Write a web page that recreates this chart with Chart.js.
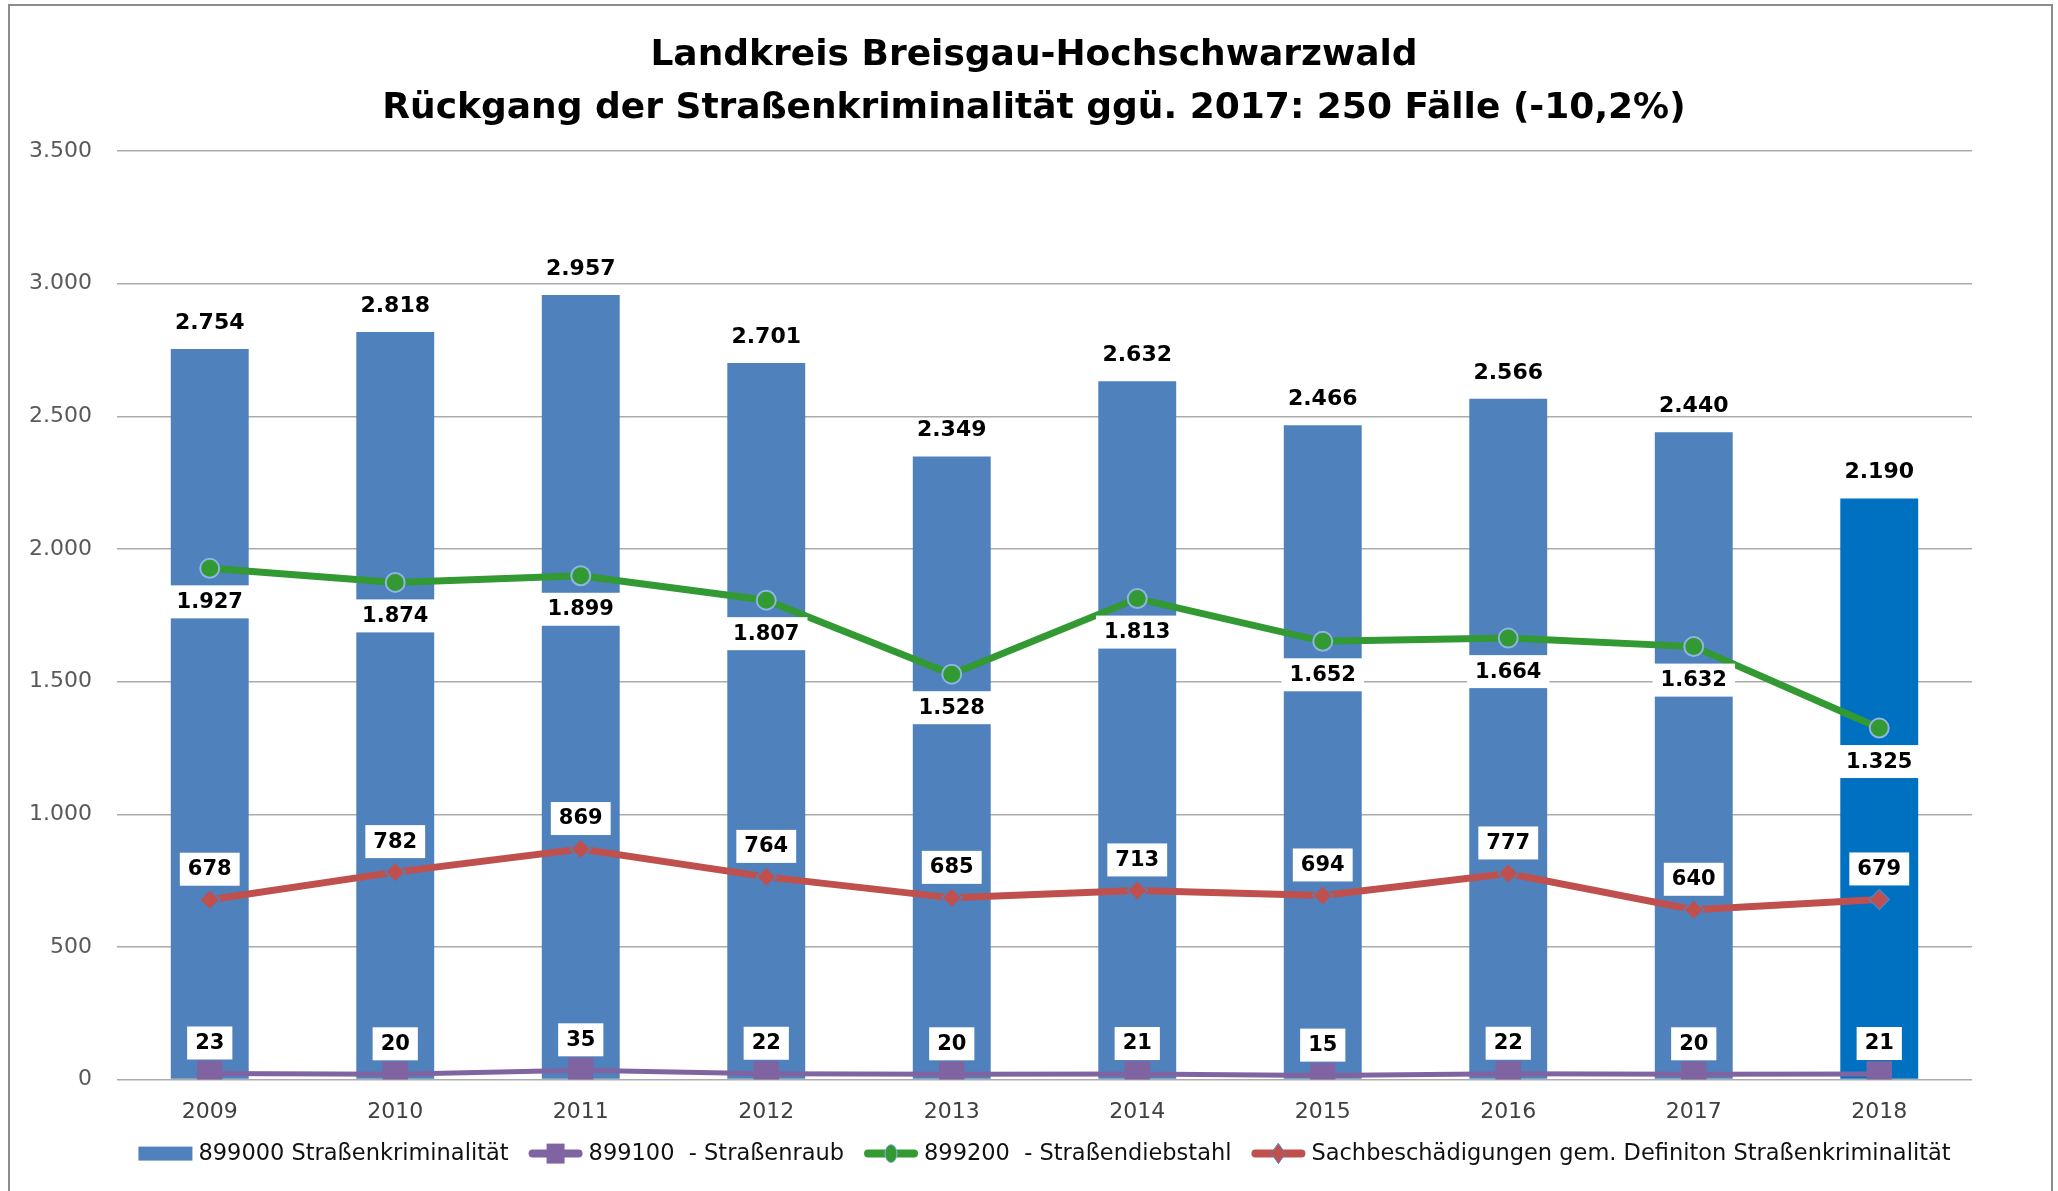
<!DOCTYPE html>
<html lang="de">
<head>
    <meta charset="UTF-8">
    <title>Straßenkriminalität Breisgau-Hochschwarzwald</title>
    <script src="https://cdn.jsdelivr.net/npm/chart.js"></script>
    <style>
        html, body {
            margin: 0;
            padding: 0;
            background: #ffffff;
        }
        .frame {
            position: absolute;
            left: 8px;
            top: 4px;
            width: 2041px;
            height: 1200px;
            border: 2px solid #8c8c8c;
            border-bottom: none;
            pointer-events: none;
        }
        canvas {
            display: block;
        }
    </style>
</head>
<body>
    <canvas id="crimeChart" width="2058" height="1191"></canvas>
    <div class="frame"></div>
    <script>
        // Jahre (Kategorien)
        const years = ['2009', '2010', '2011', '2012', '2013', '2014', '2015', '2016', '2017', '2018'];

        // Fallzahlen je Deliktsbereich
        const strassenkriminalitaet = [2754, 2818, 2957, 2701, 2349, 2632, 2466, 2566, 2440, 2190];
        const strassenraub = [23, 20, 35, 22, 20, 21, 15, 22, 20, 21];
        const strassendiebstahl = [1927, 1874, 1899, 1807, 1528, 1813, 1652, 1664, 1632, 1325];
        const sachbeschaedigungen = [678, 782, 869, 764, 685, 713, 694, 777, 640, 679];

        // Achse
        const yTicks = [0, 500, 1000, 1500, 2000, 2500, 3000, 3500];

        const seriesNames = [
            '899000 Straßenkriminalität',
            '899100  - Straßenraub',
            '899200  - Straßendiebstahl',
            'Sachbeschädigungen gem. Definiton Straßenkriminalität'
        ];

        const titleLines = [
            'Landkreis Breisgau-Hochschwarzwald',
            'Rückgang der Straßenkriminalität ggü. 2017: 250 Fälle (-10,2%)'
        ];

        const BLUE = '#4F81BD';
        const BLUE_2018 = '#0070C0';
        const PURPLE = '#8064A2';
        const GREEN = '#339933';
        const RED = '#C0504D';

        // deutsches Zahlenformat: 2754 -> 2.754
        function fmt(v) {
            return String(v).replace(/\B(?=(\d{3})+(?!\d))/g, '.');
        }

        // Titel (zwei Zeilen)
        const chartTitle = {
            id: 'chartTitle',
            afterDraw(chart) {
                const g = chart.ctx;
                g.save();
                g.font = 'bold 36px "DejaVu Sans"';
                g.fillStyle = '#000000';
                g.textAlign = 'center';
                g.textBaseline = 'middle';
                const cx = chart.width / 2 + 5;
                titleLines.forEach((line, i) => {
                    g.fillText(line, cx, 56 + i * 53);
                });
                g.restore();
            }
        };

        // Legendensymbol zeichnen (Balken bzw. Linie mit Marker)
        function drawIcon(g, kind, color, x, y) {
            g.save();
            g.translate(x, y);
            if (kind === 'bar') {
                g.fillStyle = color;
                g.fillRect(0, -7, 54, 14);
                g.restore();
                return;
            }
            g.strokeStyle = color;
            g.lineWidth = 8;
            g.lineCap = 'round';
            g.beginPath();
            g.moveTo(4, 0);
            g.lineTo(50, 0);
            g.stroke();
            g.fillStyle = color;
            if (kind === 'square') {
                g.fillRect(18, -10, 18, 20);
            } else if (kind === 'circle') {
                g.beginPath();
                g.ellipse(27, 0, 6, 9, 0, 0, Math.PI * 2);
                g.fill();
                g.strokeStyle = '#8EB4E3';
                g.lineWidth = 1;
                g.stroke();
            } else if (kind === 'diamond') {
                g.beginPath();
                g.moveTo(27, -10);
                g.lineTo(34, 0);
                g.lineTo(27, 10);
                g.lineTo(20, 0);
                g.closePath();
                g.fill();
                g.strokeStyle = '#4F81BD';
                g.lineWidth = 1;
                g.stroke();
            }
            g.restore();
        }

        // Legende unten (Excel-Stil: Linie mit Marker)
        const bottomLegend = {
            id: 'bottomLegend',
            afterDraw(chart) {
                const g = chart.ctx;
                const area = chart.chartArea;
                const kinds = [['bar', BLUE], ['square', PURPLE], ['circle', GREEN], ['diamond', RED]];
                g.save();
                g.font = '22.5px "DejaVu Sans"';
                g.textBaseline = 'middle';
                g.textAlign = 'left';
                const iconW = 54, gapIcon = 6, gapItem = 20;
                const widths = seriesNames.map(n => g.measureText(n).width);
                const total = widths.reduce((s, w) => s + iconW + gapIcon + w, 0) + gapItem * (seriesNames.length - 1);
                let x = (area.left + area.right) / 2 - total / 2;
                const y = area.bottom + 74;
                seriesNames.forEach((name, i) => {
                    drawIcon(g, kinds[i][0], kinds[i][1], x, y);
                    x += iconW + gapIcon;
                    g.fillStyle = '#111111';
                    g.fillText(name, x, y + 1);
                    x += widths[i] + gapItem;
                });
                g.restore();
            }
        };

        // Datenbeschriftungen (mit weißem Kasten bei den Linien)
        const valueLabels = {
            id: 'valueLabels',
            afterDatasetsDraw(chart) {
                const ctx = chart.ctx;
                ctx.save();
                ctx.textAlign = 'center';
                ctx.textBaseline = 'middle';
                chart.data.datasets.forEach((ds, i) => {
                    const meta = chart.getDatasetMeta(i);
                    const cfg = ds.labelCfg;
                    ctx.font = 'bold ' + cfg.size + 'px "DejaVu Sans"';
                    meta.data.forEach((el, j) => {
                        const text = fmt(ds.data[j]);
                        const x = el.x;
                        const y = el.y + cfg.dy;
                        const w = ctx.measureText(text).width;
                        if (cfg.box) {
                            ctx.fillStyle = '#ffffff';
                            ctx.fillRect(x - w / 2 - 8, y - 16, w + 16, 33);
                        }
                        ctx.fillStyle = '#000000';
                        ctx.fillText(text, x, y + 1);
                    });
                });
                ctx.restore();
            }
        };

        const ctx = document.getElementById('crimeChart').getContext('2d');
        const chart = new Chart(ctx, {
            data: {
                labels: years,
                datasets: [
                    {
                        type: 'line',
                        label: seriesNames[1],
                        data: strassenraub,
                        borderColor: PURPLE,
                        backgroundColor: PURPLE,
                        borderWidth: 5,
                        pointStyle: 'rect',
                        pointRadius: 18,
                        pointBorderWidth: 0,
                        pointBackgroundColor: PURPLE,
                        tension: 0,
                        order: 3,
                        labelCfg: { dy: -31, box: true, size: 21 }
                    },
                    {
                        type: 'line',
                        label: seriesNames[2],
                        data: strassendiebstahl,
                        borderColor: GREEN,
                        backgroundColor: GREEN,
                        borderWidth: 7,
                        pointStyle: 'circle',
                        pointRadius: 9.5,
                        pointBorderWidth: 2,
                        pointBorderColor: '#8EB4E3',
                        pointBackgroundColor: GREEN,
                        tension: 0,
                        order: 2,
                        labelCfg: { dy: 33, box: true, size: 21 }
                    },
                    {
                        type: 'line',
                        label: seriesNames[3],
                        data: sachbeschaedigungen,
                        borderColor: RED,
                        backgroundColor: RED,
                        borderWidth: 7,
                        pointStyle: 'rectRot',
                        pointRadius: 10,
                        pointBorderWidth: 1.5,
                        pointBorderColor: '#4F81BD',
                        pointBackgroundColor: RED,
                        tension: 0,
                        order: 1,
                        labelCfg: { dy: -31, box: true, size: 21 }
                    },
                    {
                        type: 'bar',
                        label: seriesNames[0],
                        data: strassenkriminalitaet,
                        backgroundColor: years.map(y => y === '2018' ? BLUE_2018 : BLUE),
                        borderWidth: 0,
                        barPercentage: 0.42,
                        categoryPercentage: 1.0,
                        order: 10,
                        labelCfg: { dy: -27, box: false, size: 22 }
                    }
                ]
            },
            options: {
                responsive: false,
                animation: false,
                layout: {
                    padding: { left: 10, right: 0, top: 151, bottom: 47 }
                },
                scales: {
                    x: {
                        grid: { display: false, drawTicks: false },
                        border: { display: false },
                        ticks: {
                            color: '#404040',
                            font: { family: 'DejaVu Sans', size: 22 },
                            padding: 19
                        }
                    },
                    y: {
                        min: 0,
                        max: 3500,
                        afterFit(scale) {
                            scale.width = 107;
                        },
                        afterBuildTicks(scale) {
                            scale.ticks = yTicks.map(v => ({ value: v }));
                        },
                        grid: {
                            color: '#ABABAB',
                            lineWidth: 1.5,
                            drawTicks: false
                        },
                        border: { display: false },
                        ticks: {
                            color: '#595959',
                            font: { family: 'DejaVu Sans', size: 22 },
                            padding: 25,
                            callback: v => fmt(v)
                        }
                    },
                    // leere rechte Achse als Abstand zum Rand
                    yRight: {
                        position: 'right',
                        grid: { display: false, drawTicks: false },
                        border: { display: false },
                        ticks: { display: false },
                        afterFit(scale) {
                            scale.width = 86;
                        }
                    }
                },
                plugins: {
                    title: { display: false },
                    legend: { display: false },
                    tooltip: { enabled: false }
                }
            },
            plugins: [valueLabels, bottomLegend, chartTitle]
        });
    </script>
</body>
</html>
